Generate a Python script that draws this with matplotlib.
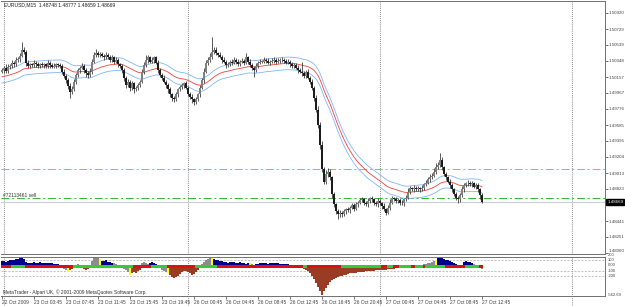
import numpy as np
import matplotlib
matplotlib.use("Agg")
import matplotlib.pyplot as plt
from matplotlib.transforms import blended_transform_factory

plt.rcParams['font.family'] = ['Liberation Sans', 'DejaVu Sans']

# EURUSD M15, one close per bar (22 Oct 23:45 .. 27 Oct 12:45)
closes = [
    1.5024, 1.5027, 1.5023, 1.5028, 1.5029, 1.5033, 1.5031, 1.5036, 1.5037, 1.5041,
    1.5048, 1.5046, 1.5033, 1.5029, 1.5031, 1.5030, 1.5033, 1.5031, 1.5029, 1.5031,
    1.5030, 1.5031, 1.5029, 1.5033, 1.5030, 1.5028, 1.5029, 1.5031, 1.5030, 1.5029,
    1.5022, 1.5017, 1.5012, 1.5005, 1.4998, 1.5001, 1.5010, 1.5018, 1.5024, 1.5027,
    1.5029, 1.5024, 1.5020, 1.5018, 1.5022, 1.5034, 1.5042, 1.5044, 1.5042, 1.5043,
    1.5041, 1.5039, 1.5042, 1.5040, 1.5036, 1.5039, 1.5034, 1.5036, 1.5031, 1.5029,
    1.5024, 1.5015, 1.5006, 1.5010, 1.5003, 1.5008, 1.5001, 1.5003, 1.5006, 1.5010,
    1.5022, 1.5030, 1.5036, 1.5039, 1.5034, 1.5036, 1.5039, 1.5033, 1.5024, 1.5018,
    1.5015, 1.5010, 1.5006, 1.5001, 1.4995, 1.4991, 1.4989, 1.4995, 1.5001, 1.5004,
    1.5006, 1.5008, 1.5003, 1.4996, 1.4992, 1.4989, 1.4986, 1.4989, 1.4995, 1.5003,
    1.5012, 1.5022, 1.5033, 1.5036, 1.5039, 1.5046, 1.5048, 1.5044, 1.5042, 1.5040,
    1.5036, 1.5034, 1.5030, 1.5031, 1.5034, 1.5033, 1.5036, 1.5034, 1.5031, 1.5034,
    1.5035, 1.5033, 1.5039, 1.5034, 1.5030, 1.5027, 1.5024, 1.5029, 1.5033, 1.5034,
    1.5034, 1.5036, 1.5035, 1.5033, 1.5034, 1.5035, 1.5036, 1.5034, 1.5035, 1.5036,
    1.5036, 1.5035, 1.5033, 1.5034, 1.5031, 1.5029, 1.5030, 1.5027, 1.5024, 1.5022,
    1.5020, 1.5017, 1.5022, 1.5015, 1.5010, 1.5003, 1.4991, 1.4977, 1.4959, 1.4935,
    1.4906, 1.4891, 1.4900, 1.4903, 1.4896, 1.4876, 1.4864, 1.4856, 1.4852, 1.4854,
    1.4852, 1.4856, 1.4858, 1.4857, 1.4860, 1.4863, 1.4859, 1.4864, 1.4866, 1.4869,
    1.4870, 1.4866, 1.4864, 1.4868, 1.4871, 1.4870, 1.4866, 1.4864, 1.4868, 1.4865,
    1.4862, 1.4858, 1.4854, 1.4860, 1.4866, 1.4871, 1.4870, 1.4868, 1.4869, 1.4866,
    1.4865, 1.4870, 1.4872, 1.4879, 1.4883, 1.4882, 1.4884, 1.4882, 1.4883, 1.4882,
    1.4884, 1.4888, 1.4890, 1.4894, 1.4896, 1.4898, 1.4903, 1.4908, 1.4911, 1.4917,
    1.4908, 1.4900, 1.4896, 1.4891, 1.4887, 1.4882, 1.4876, 1.4872, 1.4870, 1.4875,
    1.4882, 1.4887, 1.4889, 1.4890, 1.4888, 1.4889, 1.4885, 1.4887, 1.4882, 1.48748,
    1.48669,
]
first_open = 1.5022

# wicks beyond the body, in pips
hi_wick = [
    3, 2, 4, 3, 2, 3, 2, 4, 3, 3,   9, 3, 2, 3, 2, 2, 3, 2, 3, 2,
    3, 2, 2, 3, 2, 2, 3, 2, 2, 3,   2, 3, 2, 2, 3, 4, 3, 2, 3, 2,
    3, 2, 2, 3, 4, 3, 4, 5, 3, 2,   3, 2, 3, 2, 2, 3, 2, 3, 2, 2,
    2, 3, 2, 3, 2, 3, 2, 2, 3, 2,   3, 4, 6, 3, 2, 3, 2, 2, 3, 2,
    2, 3, 2, 2, 3, 2, 2, 3, 2, 2,   3, 2, 3, 2, 2, 3, 2, 3, 2, 3,
    3, 4, 3, 4, 5, 17, 4, 3, 2, 3,  2, 3, 2, 3, 2, 3, 4, 2, 3, 2,
    3, 2, 5, 2, 3, 2, 2, 3, 2, 3,   2, 3, 2, 3, 2, 3, 4, 2, 3, 2,
    3, 2, 2, 3, 2, 3, 2, 2, 3, 2,   12, 3, 2, 3, 2, 3, 2, 3, 4, 3,
    4, 3, 5, 4, 3, 2, 3, 2, 2, 3,   2, 3, 2, 3, 2, 3, 2, 3, 2, 3,
    3, 2, 2, 3, 2, 3, 2, 2, 3, 2,   2, 3, 2, 3, 4, 3, 2, 3, 2, 3,
    3, 2, 3, 4, 3, 2, 3, 2, 3, 2,   3, 2, 3, 3, 4, 3, 4, 5, 4, 8,
    3, 2, 3, 2, 3, 2, 2, 3, 2, 3,   4, 3, 2, 3, 2, 3, 2, 3, 2, 2,
    3,
]
lo_wick = [
    2, 3, 2, 3, 3, 2, 3, 2, 2, 3,   2, 3, 4, 2, 3, 2, 2, 3, 2, 3,
    2, 3, 2, 2, 3, 2, 2, 3, 2, 2,   3, 2, 3, 4, 7, 3, 2, 3, 2, 3,
    2, 3, 4, 3, 2, 3, 2, 3, 2, 3,   2, 3, 2, 3, 2, 2, 3, 2, 3, 2,
    3, 4, 3, 2, 4, 3, 4, 2, 3, 2,   2, 3, 2, 3, 2, 2, 3, 2, 3, 2,
    3, 2, 3, 4, 3, 4, 3, 2, 3, 2,   2, 3, 2, 3, 3, 4, 4, 3, 2, 3,
    2, 3, 2, 3, 2, 2, 3, 2, 3, 2,   3, 2, 3, 2, 2, 3, 2, 3, 2, 2,
    2, 3, 2, 3, 2, 3, 8, 2, 3, 2,   2, 2, 3, 2, 3, 2, 2, 3, 2, 2,
    2, 3, 2, 2, 3, 2, 3, 2, 3, 2,   3, 2, 3, 2, 3, 3, 4, 3, 4, 5,
    4, 3, 3, 4, 3, 4, 3, 3, 6, 3,   3, 2, 3, 2, 3, 2, 3, 2, 3, 2,
    2, 3, 2, 3, 2, 3, 3, 2, 3, 2,   3, 2, 3, 2, 3, 2, 2, 3, 2, 3,
    2, 3, 2, 2, 3, 2, 3, 2, 2, 3,   2, 3, 2, 2, 3, 2, 2, 3, 2, 3,
    3, 2, 3, 2, 3, 3, 2, 3, 4, 3,   2, 3, 2, 3, 2, 3, 2, 3, 3, 4,
    1,
]

ma_period = 34
ma_seed = 1.5016
envelope_pct = 0.05

sell_level = 1.48720
red_level = 1.49055
bid = 1.48669

price_ticks = [1.50920, 1.50729, 1.50539, 1.50348, 1.50157, 1.49967, 1.49776, 1.49585,
               1.49395, 1.49204, 1.49013, 1.48823, 1.48441, 1.48251, 1.48060]

time_bars = [0, 16, 32, 48, 64, 80, 96, 112, 128, 144, 160, 176, 192, 208, 224, 240]
time_labels = ["22 Oct 2009", "23 Oct 03:45", "23 Oct 07:45", "23 Oct 11:45", "23 Oct 15:45",
               "23 Oct 19:45", "26 Oct 00:45", "26 Oct 04:45", "26 Oct 08:45", "26 Oct 12:45",
               "26 Oct 16:45", "26 Oct 20:45", "27 Oct 00:45", "27 Oct 04:45", "27 Oct 08:45",
               "27 Oct 12:45"]
day_breaks = [1, 93, 189, 285]

# CCI histogram
cci = [
    80, 90, 70, 85, 95, 100, 110, 120, 130, 150,
    170, 120, 60, 40, 50, 50, 60, 45, 55, 60,
    50, 45, 55, 50, 40, 45, 35, 30, 20, 10,
    -30, -60, -80, -120, -90, -70, -30, 10, 20, 10,
    -20, -60, -80, -60, -30, 80, 150, 170, 140, 120,
    90, 80, 100, 70, 60, 50, 40, 20, 10, -20,
    -40, -60, -80, -120, -180, -150, -130, -140, -110, -80,
    40, 60, 50, 30, 50, 60, 40, 30, 10, -40,
    -80, -100, -120, -140, -180, -210, -230, -220, -190, -160,
    -120, -100, -110, -130, -150, -170, -160, -120, -80, -30,
    20, 60, 100, 130, 150, 150, 130, 110, 100, 90,
    80, 70, 60, 50, 60, 70, 60, 50, 55, 60,
    50, 40, 30, 40, 40, 20, -10, 20, 30, 40,
    45, 50, 40, 35, 40, 45, 50, 45, 40, 35,
    30, 35, 30, 20, 10, -10, -20, 15, -25, -30,
    -40, -60, -80, -100, -150, -200, -260, -330, -400, -480,
    -562.69, -480, -420, -370, -320, -280, -260, -240, -220, -200,
    -190, -180, -170, -160, -150, -145, -140, -135, -130, -125,
    -120, -115, -110, -105, -100, -100, -95, -90, -90, -85,
    -85, -80, -80, -75, -70, -65, -60, -55, -50, -45,
    -40, -35, -30, -25, -20, -10, 5, 10, 10, 15,
    10, 20, 30, 40, 50, 60, 80, 100, 140, 160,
    150, 130, 110, 100, 90, 60, 40, 20, -20, -10,
    10, 60, 80, 70, 60, 40, 20, 10, -10, -30,
    -60,
]
# b = blue, n = brown, g = gray, y = yellow
cci_color = ("bbbbbbbbbb" "bbbbbbbbbb" "bbbbbbbbbb" "gggynngggg" "nnnnnggggy"
             "bbbbbbgggg" "ggggynnnnn" "ggggbbbbgg" "gggynnnnnn" "nnnnnnnnng"
             "gggggybbbb" "bbbbbbbbbb" "bbbbyggbbb" "bbbbbbbbbb" "bbbbgggggg"
             "nnnnnnnnnn" "nnnnnnnnnn" "nnnnnnnnnn" "nnnnnnnnnn" "nnnnnnnnnn"
             "nnnnnngggg" "gggggggybb" "bbbbbbbbgg" "gbbbbbgggg" "g")
band_runs = [('r', 5), ('g', 7), ('r', 24), ('g', 30), ('r', 9), ('g', 8), ('r', 14),
             ('g', 11), ('r', 43), ('g', 2), ('r', 17), ('g', 20), ('r', 3), ('g', 3),
             ('r', 3), ('g', 6), ('r', 2), ('g', 4), ('r', 1), ('g', 10), ('r', 10),
             ('g', 7), ('r', 2)]
cci_levels = [100, -100, -200]
cci_labels = [(190, "200"), (100, "100"), (0, "0.00"), (-100, "-100"), (-200, "-200"),
              (-562.69, "-562.69")]

W, H = 625, 306
fig = plt.figure(figsize=(W / 100, H / 100), dpi=100)
fig.patch.set_facecolor('white')


def fx(px):
    return px / W


def fy(py):
    return 1 - py / H


ax = fig.add_axes([fx(1), fy(254), fx(604), 253 / H])
ax2 = fig.add_axes([fx(1), fy(296), fx(604), 39 / H])

n = len(closes)
x = np.arange(n)
c = np.array(closes)
o = np.concatenate([[first_open], c[:-1]])
hi = np.maximum(o, c) + np.array(hi_wick) * 1e-4
lo = np.minimum(o, c) - np.array(lo_wick) * 1e-4

# moving average with envelopes
alpha = 2.0 / (ma_period + 1)
ma = np.empty(n)
ma[0] = ma_seed
for i in range(1, n):
    ma[i] = ma[i - 1] + alpha * (c[i] - ma[i - 1])
upper = ma * (1 + envelope_pct / 100)
lower = ma * (1 - envelope_pct / 100)

for b in day_breaks:
    ax.axvline(b, color='#606060', lw=0.6, ls=(0, (1, 1.5)), zorder=1)

ax.axhline(red_level, color='#FF8A66', lw=0.7, ls=(0, (8, 3, 2, 3)), zorder=2)
ax.axhline(sell_level, color='#2EB82E', lw=0.7, ls=(0, (8, 3, 2, 3)), zorder=2)
ax.axhline(bid, color='#C8CCD8', lw=0.8, zorder=2)

ax.plot(x, upper, color='#7EB6F5', lw=0.6, zorder=3)
ax.plot(x, lower, color='#7EB6F5', lw=0.6, zorder=3)
ax.plot(x, ma, color='#F04040', lw=0.6, zorder=3)

ax.vlines(x, lo, hi, color='#2a2a2a', lw=0.55, zorder=4)
up = c >= o
body_h = np.maximum(np.abs(c - o), 0.00003)
ax.bar(x, body_h, bottom=np.minimum(o, c), width=0.9,
       color=np.where(up, '#808080', '#1c1c1c'), linewidth=0, zorder=5)

ax.set_xlim(-0.5, 301.5)
ax.set_ylim(1.48048, 1.51063)
ax.set_xticks([])
ax.yaxis.tick_right()
ax.set_yticks(price_ticks)
ax.set_yticklabels([f"{p:.5f}" for p in price_ticks])
ax.tick_params(axis='y', labelsize=3.2, length=2, width=0.5, pad=0.6,
               colors='#404040')
# bottom label sits just above the window separator
ax.get_yticklabels()[-1].set_va('bottom')
ax.spines['left'].set_visible(False)
for side in ['top', 'right', 'bottom']:
    ax.spines[side].set_color('#707070')
    ax.spines[side].set_linewidth(0.7)

ax.annotate("1.48669", xy=(1, bid), xycoords=blended_transform_factory(ax.transAxes, ax.transData),
            xytext=(1.6, 0), textcoords='offset points', ha='left', va='center',
            fontsize=3.2, color='white',
            bbox=dict(boxstyle='square,pad=0.25', fc='black', ec='black'),
            annotation_clip=False)

ax.text(0.003, sell_level, "#72113461 sell",
        transform=blended_transform_factory(ax.transAxes, ax.transData),
        fontsize=3.5, color='#303030', ha='left', va='bottom')

# indicator window
for b in day_breaks:
    ax2.plot([b, b], [-0.35, 1], transform=blended_transform_factory(ax2.transData, ax2.transAxes),
             color='#606060', lw=0.6, ls=(0, (1, 1.5)), clip_on=False, zorder=1)
for lv in cci_levels:
    ax2.axhline(lv, color='#A8A8A8', lw=0.5, ls=(0, (3, 2)), zorder=1)

cmap = {'b': '#00008C', 'n': '#9A3B24', 'g': '#8C8C8C', 'y': '#FFFF00'}
ax2.bar(x, cci, width=1.0, color=[cmap[k] for k in cci_color], linewidth=0, zorder=2)

band = []
for col, cnt in band_runs:
    band += [col] * cnt
bmap = {'r': '#DD1010', 'g': '#33CC33'}
ax2.bar(x, 45, bottom=-40, width=1.0, color=[bmap[k] for k in band], linewidth=0, zorder=3)

ax2.set_xlim(-0.5, 301.5)
ax2.set_ylim(-575, 160)
ax2.set_yticks([])
ax2.set_xticks(time_bars)
ax2.set_xticklabels(time_labels, ha='left')
ax2.tick_params(axis='x', labelsize=3.5, length=2, width=0.5, pad=0.8, colors='#404040')
ax2.spines['left'].set_visible(False)
for side in ['top', 'right', 'bottom']:
    ax2.spines[side].set_color('#707070')
    ax2.spines[side].set_linewidth(0.7)

ytr = blended_transform_factory(ax2.transAxes, ax2.transData)
for val, lab in cci_labels:
    ax2.text(1.005, val, lab, transform=ytr, fontsize=3.0, color='#404040',
             ha='left', va='center', clip_on=False)

fig.text(fx(4), fy(5), "EURUSD,M15  1.48748 1.48777 1.48659 1.48669", fontsize=3.6,
         color='#202020', ha='left', va='center')
fig.text(fx(3), fy(292.5), "MetaTrader - Alpari UK, \u00a9 2001-2009 MetaQuotes Software Corp.",
         fontsize=3.5, color='#303030', ha='left', va='center')

fig.savefig("out.png", dpi=100, facecolor='white')
